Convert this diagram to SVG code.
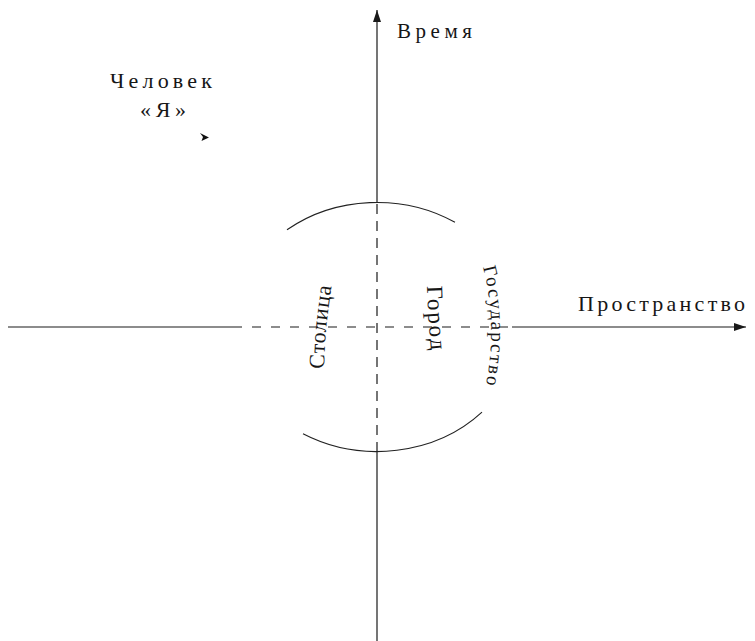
<svg xmlns="http://www.w3.org/2000/svg" width="755" height="641" viewBox="0 0 755 641">
<style>
.ax{stroke:#1a1a1a;stroke-width:1.2;fill:none}
.dv{stroke-dasharray:10 7}
.dh{stroke-dasharray:9 10}
.arc{stroke:#222;stroke-width:1.1;fill:none}
.t{font-family:"Liberation Serif","Times New Roman",serif;fill:#161616}
</style>
<defs>
<marker id="ah" markerUnits="userSpaceOnUse" markerWidth="12" markerHeight="8" refX="12" refY="4" orient="auto">
<path d="M0 0 L12 4 L0 8 Z" fill="#1a1a1a"/>
</marker>
<path id="pStol" d="M324 369 Q325 322 333 279"/>
<path id="pGor" d="M427 286 Q428 322 432 360"/>
<path id="pGos" d="M483 267 A260 260 0 0 1 483 397"/>
</defs>
<rect width="755" height="641" fill="#fff"/>
<g id="connectors">
<path class="ax" d="M377 641 L377 452"/>
<path class="ax dv" d="M377 452 L377 203"/>
<path class="ax" d="M377 203 L377 10" marker-end="url(#ah)"/>
<path class="ax" d="M8 327 L233 327"/>
<path class="ax dh" d="M233 327 L512 327"/>
<path class="ax" d="M512 327 L746 327" marker-end="url(#ah)"/>
</g>
<g id="circle">
<path class="arc" d="M287 229.8 A144 124.5 0 0 1 455 222.3"/>
<path class="arc" d="M303 433.8 A144 124.5 0 0 0 482 412.2"/>
</g>
<g id="label-time"><text class="t" x="397" y="38" font-size="21" textLength="75" lengthAdjust="spacing">Время</text></g>
<g id="label-space"><text class="t" x="578" y="311" font-size="22" textLength="167" lengthAdjust="spacing">Пространство</text></g>
<g id="label-person">
<text class="t" x="110" y="88" font-size="22" textLength="102" lengthAdjust="spacing">Человек</text>
<text class="t" x="140" y="117" font-size="22" textLength="46" lengthAdjust="spacing">«Я»</text>
<polygon points="200,133 209,137.5 201.5,141 203,137" fill="#111"/>
</g>
<g id="label-stolitsa"><text class="t" font-size="22" letter-spacing="0.7"><textPath href="#pStol">Столица</textPath></text></g>
<g id="label-gorod"><text class="t" font-size="23" letter-spacing="2"><textPath href="#pGor">Город</textPath></text></g>
<g id="label-gosudarstvo"><text class="t" font-size="19" letter-spacing="2"><textPath href="#pGos">Государство</textPath></text></g>
</svg>
